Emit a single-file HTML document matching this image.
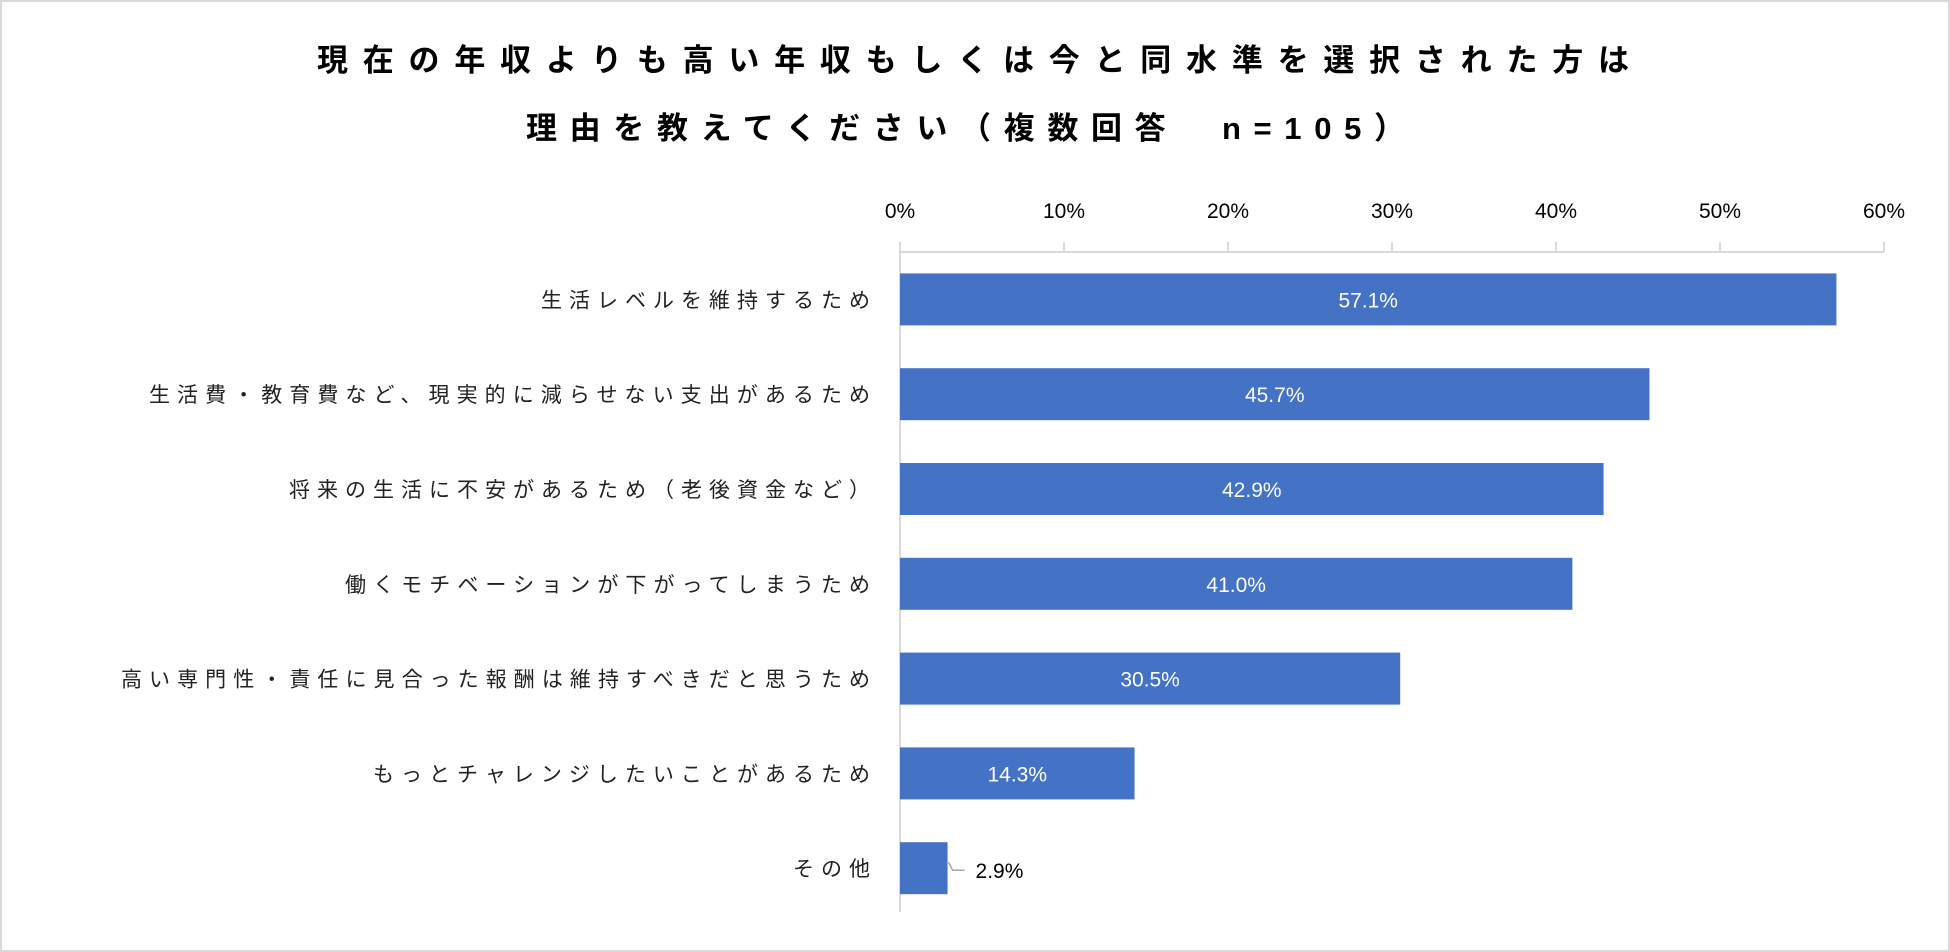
<!DOCTYPE html>
<html><head><meta charset="utf-8"><style>
body{margin:0;background:#fff}
svg{display:block;font-family:"Liberation Sans","Noto Sans CJK JP",sans-serif}
</style></head><body>
<svg width="1950" height="952" viewBox="0 0 1950 952">
<rect x="1" y="1" width="1948" height="950" fill="#fff" stroke="#d9d9d9" stroke-width="2"/>
<g id="title" font-weight="bold" font-size="31" fill="#000">
<text x="317" y="71" textLength="1312" lengthAdjust="spacing">現在の年収よりも高い年収もしくは今と同水準を選択された方は</text>
<text x="526" y="139" textLength="879" lengthAdjust="spacing">理由を教えてください（複数回答　n=105）</text>
</g>
<g id="plot"></g>
</svg>
<script>
const categories=["生活レベルを維持するため","生活費・教育費など、現実的に減らせない支出があるため","将来の生活に不安があるため（老後資金など）","働くモチベーションが下がってしまうため","高い専門性・責任に見合った報酬は維持すべきだと思うため","もっとチャレンジしたいことがあるため","その他"];
const values=[57.1,45.7,42.9,41.0,30.5,14.3,2.9];
const ticks=[0,10,20,30,40,50,60];
const NS="http://www.w3.org/2000/svg";
const g=document.getElementById('plot');
const x0=900,x1=1884,xmax=60;
const xs=v=>x0+(v/xmax)*(x1-x0);
const yTop=252,band=94.8,barH=52;
const yc=i=>yTop+band*(i+0.5);
function mk(t,a){const e=document.createElementNS(NS,t);for(const k in a)e.setAttribute(k,a[k]);g.appendChild(e);return e;}
let ax=mk('line',{x1:x0,y1:242,x2:x0,y2:912,stroke:'#d9d9d9','stroke-width':2});


let hx=mk('line',{x1:x0,y1:252,x2:x1,y2:252,stroke:'#d9d9d9','stroke-width':2});


ticks.forEach(t=>{
  const tm=mk('line',{x1:xs(t),y1:242,x2:xs(t),y2:252,stroke:'#d9d9d9','stroke-width':2});
  
  
  const tl=mk('text',{x:xs(t),y:218,'text-anchor':'middle','font-size':21,fill:'#000'});
  tl.textContent=t+'%';
  
  
});
categories.forEach((c,i)=>{
  const y=yc(i);
  const n=c.length;
  const lab=mk('text',{x:870,y:y+8,'text-anchor':'end','font-size':21,fill:'#222',textLength:n*28-7,lengthAdjust:'spacing'});
  lab.textContent=c;
  
  
  const b=mk('rect',{x:x0,y:y-barH/2,width:xs(values[i])-x0,height:barH,fill:'#4472c4'});
  
  
  const v=values[i].toFixed(1)+'%';
  if(xs(values[i])-x0>80){
    const t=mk('text',{x:(x0+xs(values[i]))/2,y:y+8,'text-anchor':'middle','font-size':21,fill:'#fff'});
    t.textContent=v;
    
    
  }else{
    const ex=xs(values[i]);
    const l=mk('polyline',{points:`${ex+1},${y-6} ${ex+5},${y+2} ${ex+17},${y+2}`,fill:'none',stroke:'#a6a6a6','stroke-width':1.5});
    
    
    const t=mk('text',{x:ex+28,y:y+10,'font-size':21,fill:'#000'});
    t.textContent=v;
    
    
  }
});
</script>
</body></html>
